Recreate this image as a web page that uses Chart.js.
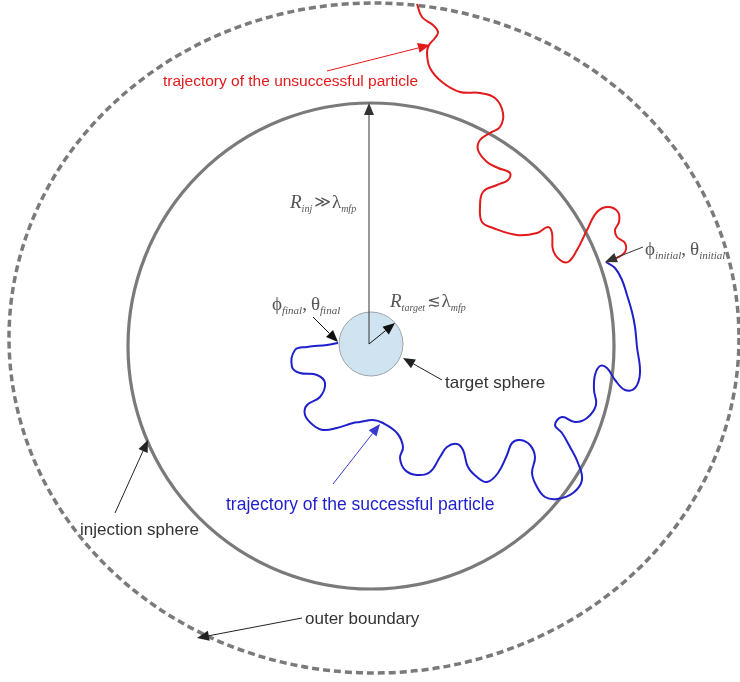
<!DOCTYPE html>
<html>
<head>
<meta charset="utf-8">
<script src="https://cdn.jsdelivr.net/npm/chart.js@4.4.1/dist/chart.umd.min.js"></script>
<style>
  html, body { margin: 0; padding: 0; background: #fff; }
  #wrap { width: 740px; height: 682px; position: relative; }
</style>
</head>
<body>
<div id="wrap"><canvas id="c"></canvas></div>
<script>
// Coordinates are centred on the target sphere, y pointing up, equal units on both axes.

// Random walk that leaves through the outer boundary (starts at the outer boundary, ends at injection)
const unsuccessfulPath = [
  [47,340],[52,327],[63,319],[68,312],[65,306],[59,299],[57,291],[60,276],[72,262],[90,252],
  [110,251],[125,246],[133,231],[130,217],[120,211],[110,204],[108,194],[117,182],[128,176],[140,171],
  [138,164],[127,159],[113,152],[110,137],[112,122],[123,116],[147,109],[167,111],[178,117],[182,111],
  [183,94],[190,84],[198,82],[207,94],[217,114],[227,132],[238,137],[248,132],[249,122],[245,114],
  [247,107],[255,101],[255,92],[247,86],[237,82]
];

// Random walk that starts at the injection sphere and reaches the target
const successfulPath = [
  [236,82],[245,76],[252,64],[257,49],[262,32],[265,17],[267,-3],[270,-29],[265,-44],[255,-46],
  [245,-36],[237,-24],[230,-22],[225,-31],[224,-46],[226,-61],[217,-74],[205,-78],[192,-73],[185,-81],
  [192,-89],[200,-103],[208,-119],[212,-136],[203,-149],[187,-155],[175,-153],[167,-143],[162,-129],[165,-113],
  [160,-101],[150,-96],[142,-99],[137,-111],[128,-129],[117,-138],[107,-133],[98,-123],[93,-106],[87,-100],
  [77,-103],[70,-113],[60,-128],[47,-131],[35,-126],[30,-114],[33,-103],[27,-89],[13,-79],[3,-76],
  [-10,-78],[-17,-79],[-33,-84],[-47,-86],[-57,-81],[-65,-71],[-63,-61],[-50,-53],[-45,-39],[-53,-31],
  [-70,-29],[-78,-23],[-75,-6],[-63,-3],[-43,-1],[-32,1]
];

// Spheres: centre x, centre y, radius (x), radius (y)
const outerBoundary   = [4, 6, 365, 335];
const injectionSphere = [1, -2, 243, 243];
const targetSphere    = [1, 0, 32, 32];

// Plain labels: text, x, y (left edge, vertical middle)
const labelTexts = [
  'trajectory of the unsuccessful particle',
  'trajectory of the successful particle',
  'target sphere',
  'injection sphere',
  'outer boundary'
];
const labelAnchors = [[-207, 262], [-144, -161], [75, -39], [-290, -186], [-65, -275]];

// Symbolic labels: pieces of [text, kind]
const mathLabels = [
  [['R','it'],['inj','sub'],['\u226B','op'],['\u03BB','rm'],['mfp','sub']],
  [['\u03D5','rm'],['final','sub2'],[',','sep'],['\u03B8','rm'],['final','sub2']],
  [['R','it'],['target','sub'],['\u2272','op'],['\u03BB','rm'],['mfp','sub']],
  [['\u03D5','rm'],['initial','sub2'],[',','sep'],['\u03B8','rm'],['initial','sub2']]
];
const mathAnchors = [[-80, 136], [-98, 34], [20, 37], [275, 89]];

// Pointer arrows: from [x,y] to [x,y]
const arrowFrom = [[-1,0],[-1,0],[-57,27],[72,-36],[-37,-140],[-255,-169],[-68,-274],[-43,273],[273,97]];
const arrowTo   = [[-1,241],[25,21],[-32,2],[33,-14],[10,-80],[-222,-96],[-173,-294],[60,299],[235,82]];

const toXY = p => ({ x: p[0], y: p[1] });

const GREY = '#7a7a7a';
const TEXT = '#333333';
const MATH = '#555555';
const RED = '#e31a1c';
const BLUE = '#1f1fcc';
const arrowColors = [ '#333', '#111', '#111', '#222', '#3a3ad0', '#222', '#222', RED, '#333' ];
const labelColors = [ RED, BLUE, TEXT, TEXT, TEXT ];
const labelSizes  = [ 15.5, 17.5, 17, 17, 17 ];

function pix(chart, x, y) {
  return [chart.scales.x.getPixelForValue(x), chart.scales.y.getPixelForValue(y)];
}

function drawSphere(chart, s, opts) {
  const ctx = chart.ctx;
  const [cx, cy] = pix(chart, s[0], s[1]);
  const rx = Math.abs(chart.scales.x.getPixelForValue(s[0] + s[2]) - cx);
  const ry = Math.abs(chart.scales.y.getPixelForValue(s[1] + s[3]) - cy);
  ctx.save();
  ctx.beginPath();
  ctx.ellipse(cx, cy, rx, ry, 0, 0, Math.PI * 2);
  if (opts.fill) { ctx.fillStyle = opts.fill; ctx.fill(); }
  ctx.setLineDash(opts.dash || []);
  ctx.lineWidth = opts.width;
  ctx.strokeStyle = opts.stroke;
  ctx.stroke();
  ctx.restore();
}

function drawArrow(chart, a, b, color) {
  const ctx = chart.ctx;
  const [x1, y1] = pix(chart, a[0], a[1]);
  const [x2, y2] = pix(chart, b[0], b[1]);
  const ang = Math.atan2(y2 - y1, x2 - x1);
  const L = 12, W = 5;
  const bx = x2 - L * Math.cos(ang), by = y2 - L * Math.sin(ang);
  ctx.save();
  ctx.strokeStyle = color;
  ctx.fillStyle = color;
  ctx.lineWidth = 1;
  ctx.beginPath();
  ctx.moveTo(x1, y1);
  ctx.lineTo(bx, by);
  ctx.stroke();
  ctx.beginPath();
  ctx.moveTo(x2, y2);
  ctx.lineTo(bx + W * Math.sin(ang), by - W * Math.cos(ang));
  ctx.lineTo(bx - W * Math.sin(ang), by + W * Math.cos(ang));
  ctx.closePath();
  ctx.fill();
  ctx.restore();
}

const SERIF = '"Liberation Serif", "DejaVu Serif", serif';
// font, baseline shift, space before, space after
const mathFonts = {
  it:   ['italic 19px ' + SERIF, 0, 0, 0],
  rm:   ['19px ' + SERIF, 0, 0, 0],
  sep:  ['19px ' + SERIF, 0, 0, 4],
  op:   ['16px "DejaVu Sans", ' + SERIF, -1, 2, 1],
  sub:  ['italic 10px ' + SERIF, 4, 0, 0],
  sub2: ['italic 11px ' + SERIF, 4, 0, 0]
};

function drawMath(chart, pieces, anchor) {
  const ctx = chart.ctx;
  let [x, y] = pix(chart, anchor[0], anchor[1]);
  ctx.save();
  ctx.fillStyle = MATH;
  ctx.textBaseline = 'alphabetic';
  ctx.textAlign = 'left';
  for (const [t, kind] of pieces) {
    const [font, dy, pre, post] = mathFonts[kind];
    ctx.font = font;
    x += pre;
    ctx.fillText(t, x, y + dy);
    x += ctx.measureText(t).width + post;
  }
  ctx.restore();
}

const diagramPlugin = {
  id: 'diagram',
  beforeDatasetsDraw(chart) {
    drawSphere(chart, outerBoundary, { stroke: GREY, width: 3.5, dash: [7, 4] });
    drawSphere(chart, injectionSphere, { stroke: GREY, width: 3.2 });
    drawSphere(chart, targetSphere, { stroke: '#9aa3aa', width: 1, fill: '#cfe3f1' });
  },
  afterDatasetsDraw(chart) {
    const ctx = chart.ctx;
    arrowFrom.forEach((a, i) => drawArrow(chart, a, arrowTo[i], arrowColors[i]));
    labelTexts.forEach((t, i) => {
      const [x, y] = pix(chart, labelAnchors[i][0], labelAnchors[i][1]);
      ctx.save();
      ctx.font = labelSizes[i] + 'px "Liberation Sans", Arial, sans-serif';
      ctx.fillStyle = labelColors[i];
      ctx.textBaseline = 'middle';
      ctx.textAlign = 'left';
      ctx.fillText(t, x, y);
      ctx.restore();
    });
    mathLabels.forEach((m, i) => drawMath(chart, m, mathAnchors[i]));
  }
};

new Chart(document.getElementById('c'), {
  type: 'scatter',
  data: {
    datasets: [
      {
        label: 'unsuccessful particle',
        data: unsuccessfulPath.map(toXY),
        showLine: true,
        borderColor: RED,
        borderWidth: 2,
        pointRadius: 0,
        tension: 0.4
      },
      {
        label: 'successful particle',
        data: successfulPath.map(toXY),
        showLine: true,
        borderColor: BLUE,
        borderWidth: 2,
        pointRadius: 0,
        tension: 0.4
      }
    ]
  },
  options: {
    responsive: true,
    maintainAspectRatio: false,
    animation: false,
    events: [],
    layout: { padding: 0 },
    plugins: { legend: { display: false }, tooltip: { enabled: false } },
    scales: {
      x: { type: 'linear', min: -370, max: 370, display: false },
      y: { type: 'linear', min: -338, max: 344, display: false }
    }
  },
  plugins: [diagramPlugin]
});
</script>
</body>
</html>
